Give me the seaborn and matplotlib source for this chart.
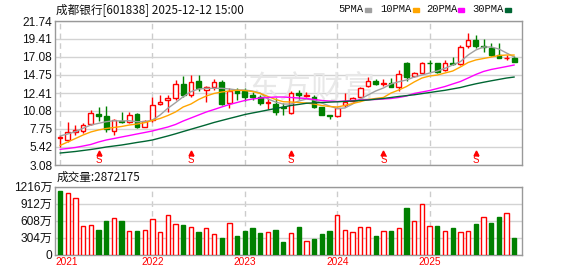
import numpy as np
import pandas as pd
import matplotlib
matplotlib.use("Agg")
import matplotlib.pyplot as plt
import matplotlib.transforms as mtransforms
from matplotlib.patches import Rectangle
import seaborn as sns

# ---------------- data ----------------
months = pd.date_range("2021-01-01", periods=60, freq="MS").strftime("%Y-%m").tolist()

opens = [6.58, 6.32, 7.40, 7.52, 8.39, 9.69, 9.43, 7.52, 8.78, 8.69,
         9.69, 8.04, 8.91, 10.98, 11.50, 11.72, 13.58, 12.15, 13.97, 12.80,
         13.15, 13.88, 11.08, 12.80, 12.71, 12.15, 11.85, 11.14, 11.00, 10.65,
         9.78, 12.37, 12.00, 11.85, 10.56, 9.50, 9.43, 10.85, 11.41, 11.93,
         13.32, 13.97, 13.60, 13.75, 13.15, 16.33, 14.60, 15.04, 16.33, 16.25,
         15.39, 16.30, 16.17, 18.54, 19.28, 18.50, 18.28, 17.33, 16.90, 17.00]
highs = [6.97, 8.69, 8.30, 8.48, 10.21, 10.56, 10.72, 9.00, 9.99, 9.91,
         9.78, 8.91, 11.93, 12.15, 12.15, 14.10, 14.61, 14.75, 14.75, 13.30,
         14.18, 14.10, 13.10, 13.02, 13.10, 12.58, 12.15, 11.72, 11.72, 11.08,
         12.71, 12.80, 12.58, 12.15, 10.65, 9.56, 10.65, 12.37, 11.93, 13.23,
         14.44, 14.18, 14.18, 14.32, 15.35, 16.47, 15.10, 16.47, 16.69, 16.30,
         16.69, 17.10, 18.63, 20.15, 19.93, 19.37, 18.85, 18.85, 17.30, 17.20]
lows = [5.37, 6.10, 7.00, 7.19, 8.26, 8.82, 7.40, 6.97, 8.48, 8.56,
        7.84, 7.97, 8.69, 10.85, 9.99, 11.50, 11.93, 11.93, 12.71, 11.28,
        12.80, 10.85, 10.42, 11.50, 11.41, 11.50, 10.85, 10.30, 9.56, 9.56,
        9.69, 11.59, 11.93, 10.52, 9.56, 9.00, 9.30, 10.65, 11.28, 11.85,
        13.15, 13.45, 13.32, 13.15, 12.65, 14.00, 14.52, 14.96, 15.17, 14.96,
        15.30, 16.04, 16.04, 18.20, 18.20, 17.76, 17.20, 16.90, 16.70, 16.47]
closes = [6.75, 7.36, 7.62, 8.22, 9.78, 9.47, 7.71, 8.91, 8.65, 9.56,
          7.97, 8.78, 10.85, 11.28, 11.76, 13.54, 12.15, 13.88, 13.02, 13.23,
          13.80, 10.98, 12.71, 12.37, 11.93, 11.85, 11.08, 11.28, 10.00, 10.50,
          12.37, 12.15, 12.10, 10.65, 9.56, 9.45, 10.43, 11.28, 11.72, 13.02,
          13.97, 13.54, 13.75, 13.15, 14.90, 14.52, 14.95, 16.25, 16.25, 15.17,
          16.25, 16.20, 18.40, 19.28, 18.54, 18.40, 17.33, 16.90, 17.00, 16.47]

ma5 = [6.84, 7.10, 7.40, 7.84, 8.26, 8.48, 8.69, 8.82, 8.78, 8.82,
       8.69, 8.69, 8.91, 9.56, 10.43, 11.15, 11.93, 12.58, 12.93, 13.02,
       13.02, 13.02, 12.93, 12.80, 12.80, 12.67, 12.41, 11.63, 11.24, 10.98,
       10.98, 11.37, 11.63, 11.50, 11.11, 10.72, 10.40, 10.47, 10.98, 11.63,
       12.15, 12.67, 13.06, 13.58, 13.87, 14.10, 14.48, 14.74, 15.00, 15.26,
       15.61, 16.04, 16.47, 17.33, 17.98, 18.37, 18.37, 18.11, 17.59, 17.07]
ma10 = [5.61, 6.06, 6.51, 6.97, 7.36, 7.62, 7.81, 7.94, 8.07, 8.26,
        8.39, 8.56, 8.85, 9.11, 9.49, 9.95, 10.60, 10.98, 11.57, 12.02,
        12.35, 12.54, 12.67, 12.76, 12.73, 12.60, 12.35, 11.96, 11.57, 11.28,
        11.24, 11.18, 11.11, 10.98, 10.79, 10.66, 10.60, 10.79, 11.05, 11.28,
        11.57, 11.70, 11.83, 12.41, 12.80, 13.25, 13.84, 14.35, 14.61, 14.74,
        15.00, 15.26, 15.78, 16.36, 16.69, 16.88, 17.07, 17.27, 17.33, 17.33]
ma20 = [5.11, 5.22, 5.35, 5.54, 5.74, 6.06, 6.32, 6.51, 6.71, 6.90,
        7.10, 7.29, 7.49, 7.75, 8.00, 8.33, 8.78, 9.17, 9.56, 9.95,
        10.27, 10.60, 10.92, 11.18, 11.44, 11.63, 11.76, 11.83, 11.89, 11.89,
        11.83, 11.76, 11.70, 11.57, 11.44, 11.37, 11.31, 11.37, 11.44, 11.50,
        11.54, 11.57, 11.63, 11.70, 11.83, 12.02, 12.35, 12.54, 12.73, 12.99,
        13.25, 13.58, 13.90, 14.35, 14.81, 15.20, 15.46, 15.65, 15.84, 16.04]
ma30 = [4.63, 4.73, 4.83, 4.96, 5.09, 5.24, 5.41, 5.54, 5.67, 5.83,
        6.00, 6.15, 6.32, 6.58, 6.84, 7.12, 7.42, 7.71, 8.00, 8.29,
        8.59, 8.85, 9.11, 9.36, 9.62, 9.82, 10.01, 10.21, 10.40, 10.60,
        10.79, 10.93, 11.08, 11.13, 11.18, 11.23, 11.27, 11.32, 11.37, 11.44,
        11.50, 11.61, 11.70, 11.83, 11.96, 12.07, 12.18, 12.33, 12.47, 12.62,
        12.76, 12.94, 13.12, 13.37, 13.60, 13.80, 13.99, 14.17, 14.35, 14.48]

volumes = [1143, 1107, 1017, 513, 531, 441, 603, 651, 603, 423,
           423, 441, 633, 405, 711, 549, 531, 489, 405, 471,
           369, 297, 561, 333, 423, 477, 387, 399, 441, 225,
           382, 495, 238, 279, 369, 423, 711, 436, 405, 495,
           495, 333, 418, 423, 477, 837, 598, 904, 508, 513,
           418, 477, 400, 418, 549, 670, 567, 675, 742, 287.2175]  # 万
vol_up = [0, 1, 1, 1, 1, 0, 0, 1, 0, 1,
          0, 1, 1, 1, 1, 1, 0, 1, 0, 1,
          1, 0, 1, 0, 0, 0, 0, 1, 0, 0,
          1, 0, 1, 0, 0, 0, 1, 1, 1, 1,
          1, 0, 1, 0, 1, 0, 1, 1, 1, 0,
          1, 0, 1, 1, 0, 1, 0, 0, 1, 0]

div_months = ["2021-06", "2022-06", "2023-07", "2024-07", "2025-07"]
price_ticks = [3.08, 5.42, 7.75, 10.08, 12.41, 14.75, 17.08, 19.41, 21.74]
price_tick_labels = ["3.08", "5.42", "7.75", "10.08", "12.41", "14.75", "17.08", "19.41", "21.74"]
vol_ticks = [0, 304, 608, 912, 1216]
vol_tick_labels = ["0", "304万", "608万", "912万", "1216万"]
years = ["2021", "2022", "2023", "2024", "2025"]
ma_names = ["5PMA", "10PMA", "20PMA", "30PMA"]
title = "成都银行[601838] 2025-12-12 15:00"
vol_title = "成交量:2872175"

# ---------------- style ----------------
RED = "#FF0000"
GREEN = "#008000"
ma_colors = {"5PMA": "#A0A0A0", "10PMA": "#FFA500", "20PMA": "#FF00FF", "30PMA": "#006633"}
FRAME = "#999999"
GRID = "#D3D3D3"

sns.set_style("white")
plt.rcParams["font.family"] = ["Liberation Sans", "Noto Sans CJK SC", "DejaVu Sans"]
CJK = ["Noto Sans CJK SC", "DejaVu Sans"]

W, H = 578, 276
fig = plt.figure(figsize=(W / 100, H / 100), dpi=100)
L, R = 55, 522
ax = fig.add_axes([L / W, 1 - 165 / H, (R - L) / W, 144 / H])
axv = fig.add_axes([L / W, 1 - 254.5 / H, (R - L) / W, 67.8 / H])

idx = np.arange(len(months))
o = np.array(opens); c = np.array(closes); hi = np.array(highs); lo = np.array(lows)
up = c >= o
edge = np.where(up, RED, GREEN)
face = np.where(up, "white", GREEN)

# wicks + bodies
ax.vlines(idx, lo, hi, colors=edge, lw=1, zorder=3)
body_h = np.maximum(np.abs(c - o), 0.02)
ax.bar(idx, body_h, bottom=np.minimum(o, c), width=0.62, color=face,
       edgecolor=edge, linewidth=1, zorder=4)

# moving averages
df_ma = pd.DataFrame({"idx": idx, "5PMA": ma5, "10PMA": ma10, "20PMA": ma20, "30PMA": ma30})
df_long = df_ma.melt(id_vars="idx", var_name="ma", value_name="v")
sns.lineplot(data=df_long, x="idx", y="v", hue="ma", hue_order=ma_names,
             palette=ma_colors, ax=ax, legend=False, linewidth=1, zorder=5)

xlim = (-0.65, 60.0)
year_pos = [months.index(y + "-01") for y in years]

for a in (ax, axv):
    a.set_xlim(*xlim)
    for s in a.spines.values():
        s.set_color(FRAME)
        s.set_linewidth(1)
    a.set_xticks(year_pos)
    a.xaxis.grid(True, color="#CCCCCC", linestyle=(0, (4, 3)), linewidth=1)
    a.yaxis.grid(True, color=GRID, linewidth=1)
    a.set_axisbelow(True)
    a.tick_params(length=0, pad=2)
    a.set_xlabel("")
    a.set_ylabel("")

ax.set_ylim(price_ticks[0], price_ticks[-1])
ax.set_yticks(price_ticks)
ax.set_yticklabels(price_tick_labels, fontsize=8.6, color="#111111")
ax.set_xticklabels([])

# watermark
ax.text(0.55, 0.52, "东方财富", transform=ax.transAxes, fontsize=23,
        color="#E8E8E8", ha="center", va="center", family=CJK, zorder=1)

# dividend markers
blend = mtransforms.blended_transform_factory(ax.transData, ax.transAxes)
for m in div_months:
    i = months.index(m)
    ax.plot([i], [0.085], marker="^", ms=3.5, color=RED, transform=blend,
            zorder=6, clip_on=False)
    ax.text(i, 0.035, "S", transform=blend, color=RED, fontsize=7,
            ha="center", va="center", zorder=6)

# volume
v_up = np.array(vol_up).astype(bool)
vedge = np.where(v_up, RED, GREEN)
vface = np.where(v_up, "white", GREEN)
axv.bar(idx, volumes, width=0.56, color=vface, edgecolor=vedge, linewidth=1, zorder=3)
axv.set_ylim(vol_ticks[0], vol_ticks[-1])
axv.set_yticks(vol_ticks)
axv.set_yticklabels(vol_tick_labels, fontsize=8.6, color="#111111", family=["Liberation Sans", "Noto Sans CJK SC"])
axv.set_xticklabels([])

vblend = mtransforms.blended_transform_factory(axv.transData, axv.transAxes)
for y, p in zip(years, year_pos):
    if p == 0:
        axv.text(xlim[0], -0.11, y, transform=vblend, color=RED, fontsize=7.3,
                 ha="left", va="center")
    else:
        axv.text(p, -0.11, y, transform=vblend, color=RED, fontsize=7.3,
                 ha="center", va="center")

# titles
fig.text(56 / W, 1 - 9.5 / H, title, fontsize=8.4, family=CJK, va="center", ha="left", color="#111111")
fig.text(57 / W, 1 - 177.5 / H, vol_title, fontsize=8.4, family=CJK, va="center", ha="left", color="#111111")

# legend at top right
leg_x = [338, 380, 426, 472]
sq_x = [365, 413, 458, 505]
for name, tx, sx in zip(ma_names, leg_x, sq_x):
    fig.text(tx / W, 1 - 9 / H, name, fontsize=7.6, family=["Liberation Mono", "DejaVu Sans Mono"],
             va="center", ha="left", color="#111111")
    fig.patches.append(Rectangle((sx / W, 1 - 11.5 / H), 6 / W, 3.5 / H,
                                 transform=fig.transFigure, color=ma_colors[name]))

fig.savefig("out.png", dpi=100)
